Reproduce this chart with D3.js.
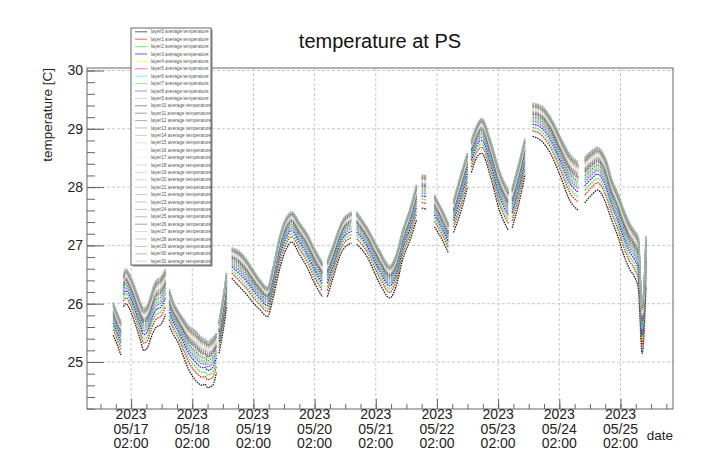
<!DOCTYPE html>
<html>
<head>
<meta charset="utf-8">
<script src="https://cdn.jsdelivr.net/npm/d3@7"></script>
<style>
  body { margin: 0; background: #fff; }
  svg { display: block; font-family: "Liberation Sans", Arial, sans-serif; }
</style>
</head>
<body>
<div id="chart"></div>
<script>
// hours after 2023-05-17 02:00, null = gap in the record
const hours = [
  -7, -5.5, -4, -3.5, -3, -2, -0.5, 1.5, 3.5, 5, 6.5, 7.5, 9.5, 12, 13.5, 14.5,
  15, 16.5, 18.5, 20.5, 22.5, 25, 28, 29, 30, 32, 33.5, 34,
  34.5, 36, 37.5, 38.5,
  39.5, 42.5, 45.5, 48, 50.5, 53.5, 55.5, 58.5, 61, 63, 66, 69, 72, 75, 76,
  77, 79, 83, 86.5, 87.5,
  88.5, 92.5, 97.5, 101.5, 104, 106.5, 109.5, 112, 113,
  114, 116, 117.5,
  119, 122, 124.5, 125.5,
  126.5, 129.5, 132, 133,
  133.5, 135.5, 137.5, 141, 144.5, 148, 148.5,
  149.5, 152, 154.5, 156,
  157.5, 160.5, 164.5, 168.5, 172, 175.5, 177,
  178, 181, 183, 185, 186.5, 188.5, 191, 193, 195.5, 197.5, 199, 200.5, 202
];

// layer0 (lowest curve)
const bottomTemp = [
  25.46, 25.30, 25.12, null, 25.95, 26.00, 25.90, 25.67, 25.40, 25.20, 25.25, 25.38, 25.58, 25.66, 25.82, null,
  25.62, 25.48, 25.33, 25.10, 24.88, 24.70, 24.60, 24.62, 24.56, 24.60, 24.82, null,
  25.15, 25.50, 25.95, null,
  26.44, 26.29, 26.15, 26.01, 25.90, 25.78, 26.06, 26.63, 26.95, 27.06, 26.85, 26.63, 26.35, 26.12, null,
  26.12, 26.41, 26.92, 27.04, null,
  27.02, 26.81, 26.35, 26.10, 26.30, 26.75, 27.10, 27.44, null,
  27.64, 27.62, null,
  27.32, 27.10, 26.87, null,
  27.22, 27.60, 28.00, null,
  28.25, 28.50, 28.58, 28.18, 27.60, 27.26, null,
  27.30, 27.70, 28.20, null,
  28.87, 28.81, 28.58, 28.18, 27.78, 27.60, null,
  27.73, 27.88, 27.95, 27.85, 27.69, 27.44, 27.15, 26.87, 26.60, 26.46, 26.26, 25.15, 26.30
];

// uppermost curve
const topTemp = [
  26.03, 25.85, 25.70, null, 26.50, 26.60, 26.50, 26.29, 26.05, 25.93, 26.00, 26.12, 26.38, 26.48, 26.60, null,
  26.25, 26.05, 25.88, 25.75, 25.63, 25.55, 25.42, 25.40, 25.36, 25.42, 25.50, null,
  25.70, 26.10, 26.55, null,
  26.96, 26.90, 26.75, 26.58, 26.42, 26.29, 26.60, 27.20, 27.49, 27.58, 27.40, 27.21, 26.95, 26.72, null,
  26.75, 26.98, 27.44, 27.58, null,
  27.58, 27.32, 26.92, 26.66, 26.85, 27.26, 27.65, 28.05, null,
  28.21, 28.20, null,
  27.87, 27.62, 27.38, null,
  27.78, 28.25, 28.60, null,
  28.81, 29.05, 29.18, 28.81, 28.29, 27.95, null,
  28.00, 28.40, 28.84, null,
  29.44, 29.41, 29.21, 28.86, 28.58, 28.44, null,
  28.52, 28.64, 28.69, 28.60, 28.46, 28.15, 27.90, 27.66, 27.40, 27.26, 27.15, 26.00, 27.18
];

// where each layer sits between the lowest and uppermost curve
const layerPos = [
  0, 0.17, 0.27, 0.37, 0.55, 0.45, 0.49, 0.52, 0.58, 0.62,
  0.66, 0.69, 0.72, 0.74, 0.76, 0.78, 0.80, 0.82, 0.84, 0.86,
  0.87, 0.88, 0.89, 0.90, 0.91, 0.92, 0.93, 0.95, 0.96, 0.97,
  0.99, 1.0
];

const layerColors = [
  "#000000", "#ff0000", "#00ff00", "#0000ff", "#ffff00", "#ff00ff", "#00ffff", "#59d454",
  "#5954d9", "#c0b6ac", "#4c4c4c", "#666666", "#7f7f7f", "#999999", "#b2b2b2", "#cccccc",
  "#e5e5e5", "#f2f2f2", "#ccc6aa", "#ccc6aa", "#c1bfa8", "#bab5a3", "#b2a596", "#b7a39b",
  "#ad998c", "#9b8e82", "#876656", "#afcec6", "#84c1a3", "#89a8a0", "#829e8c", "#adbdc7"
];

const layerNames = d3.range(32).map(i => `layer${i} average temperature`);

const yMajor = [25, 26, 27, 28, 29, 30];

const W = 728, H = 450;
const frame = { left: 87, right: 673, top: 68, bottom: 409 };
const HOUR = 3600 * 1000;
const t0 = Date.UTC(2023, 4, 17, 2, 0);

const svg = d3.select("#chart").append("svg")
  .attr("width", W).attr("height", H);

const x = d3.scaleUtc()
  .domain([new Date(t0 - 17.3 * HOUR), new Date(t0 + 212.6 * HOUR)])
  .range([frame.left, frame.right]);

const y = d3.scaleLinear()
  .domain([24.194, 30.043])
  .range([frame.bottom, frame.top]);

// grid
const grid = svg.append("g").attr("stroke", "#c8c8c8").attr("stroke-dasharray", "3,2");
const xMajor = d3.range(0, 9).map(d => new Date(t0 + d * 24 * HOUR));
grid.selectAll("line.gx").data(xMajor).join("line")
  .attr("x1", d => x(d)).attr("x2", d => x(d))
  .attr("y1", frame.top).attr("y2", frame.bottom);
grid.selectAll("line.gy").data(yMajor).join("line")
  .attr("x1", frame.left).attr("x2", frame.right)
  .attr("y1", d => y(d)).attr("y2", d => y(d));

// frame
svg.append("rect")
  .attr("x", frame.left).attr("y", frame.top)
  .attr("width", frame.right - frame.left).attr("height", frame.bottom - frame.top)
  .attr("fill", "none").attr("stroke", "#666");

// curves
const series = layerPos.map((p, i) => ({
  name: layerNames[i],
  color: layerColors[i],
  values: hours.map((h, k) => ({
    date: new Date(t0 + h * HOUR),
    v: bottomTemp[k] == null ? null : bottomTemp[k] + p * (topTemp[k] - bottomTemp[k])
  }))
}));

const line = d3.line()
  .defined(d => d.v != null)
  .curve(d3.curveMonotoneX)
  .x(d => x(d.date))
  .y(d => y(d.v));

svg.append("g")
  .selectAll("path")
  .data(series)
  .join("path")
  .attr("d", d => line(d.values))
  .attr("fill", "none")
  .attr("stroke", d => d.color)
  .attr("stroke-width", 1.3)
  .attr("stroke-opacity", 0.85)
  .attr("stroke-dasharray", "1.6,0.9");

// y axis (ticks point into the frame)
const yAxis = svg.append("g").attr("transform", `translate(${frame.left},0)`);
yAxis.call(d3.axisLeft(y).tickValues(d3.range(242, 301, 2).map(d => d / 10))
  .tickSize(-8).tickFormat(""));
yAxis.call(g => g.select(".domain").remove());
const yAxisMaj = svg.append("g").attr("transform", `translate(${frame.left},0)`);
yAxisMaj.call(d3.axisLeft(y).tickValues(yMajor).tickSize(-17).tickPadding(4).tickFormat(d3.format("d")));
yAxisMaj.call(g => g.select(".domain").remove());
yAxisMaj.selectAll("text").attr("font-size", 14).attr("fill", "#222")
  .attr("font-family", "Liberation Sans, Arial, sans-serif");
svg.selectAll(".tick line").attr("stroke", "#666");

// x axis
const xMinor = d3.range(-18, 213, 6).map(h => new Date(t0 + h * HOUR))
  .filter(d => d >= x.domain()[0] && d <= x.domain()[1]);
const xAxis = svg.append("g").attr("transform", `translate(0,${frame.bottom})`);
xAxis.call(d3.axisBottom(x).tickValues(xMinor).tickSize(-5).tickFormat(""));
xAxis.call(g => g.select(".domain").remove());
const xAxisMaj = svg.append("g").attr("transform", `translate(0,${frame.bottom})`);
xAxisMaj.call(d3.axisBottom(x).tickValues(xMajor).tickSize(-10).tickFormat(""));
xAxisMaj.call(g => g.select(".domain").remove());
svg.selectAll(".tick line").attr("stroke", "#666");

const fmtLines = [d3.utcFormat("%Y"), d3.utcFormat("%m/%d"), d3.utcFormat("%H:%M")];
const xLabels = svg.append("g")
  .attr("font-size", 14).attr("fill", "#222").attr("text-anchor", "middle");
xLabels.selectAll("text").data(xMajor).join("text")
  .attr("x", d => x(d))
  .selectAll("tspan").data(d => fmtLines.map(f => f(d))).join("tspan")
  .attr("x", function () { return d3.select(this.parentNode).attr("x"); })
  .attr("y", (d, i) => 419 + i * 14.5)
  .text(d => d);

svg.append("text")
  .attr("x", frame.right).attr("y", 440)
  .attr("text-anchor", "end").attr("font-size", 13.5).attr("fill", "#222")
  .text("date");

svg.append("text")
  .attr("transform", `translate(52,${frame.top}) rotate(-90)`)
  .attr("text-anchor", "end").attr("font-size", 13.5).attr("fill", "#222")
  .text("temperature [C]");

// title
svg.append("text")
  .attr("x", 380).attr("y", 48)
  .attr("text-anchor", "middle").attr("font-size", 20).attr("fill", "#111")
  .text("temperature at PS");

// legend
const leg = { x: 131, y: 28, w: 80, h: 237 };
svg.append("rect")
  .attr("x", leg.x + 1.5).attr("y", leg.y + 1.5).attr("width", leg.w).attr("height", leg.h)
  .attr("fill", "#888");
svg.append("rect")
  .attr("x", leg.x).attr("y", leg.y).attr("width", leg.w).attr("height", leg.h)
  .attr("fill", "#fff").attr("stroke", "#666");

const rows = svg.append("g").selectAll("g").data(series).join("g")
  .attr("transform", (d, i) => `translate(${leg.x},${leg.y + 3.8 + i * 7.4})`);
rows.append("line")
  .attr("x1", 4).attr("x2", 16)
  .attr("stroke", d => d.color).attr("stroke-width", 0.9).attr("stroke-opacity", 0.7);
rows.append("text")
  .attr("x", 20).attr("dy", "0.35em")
  .attr("font-size", 4.7).attr("fill", "#555")
  .text(d => d.name);
</script>
</body>
</html>
